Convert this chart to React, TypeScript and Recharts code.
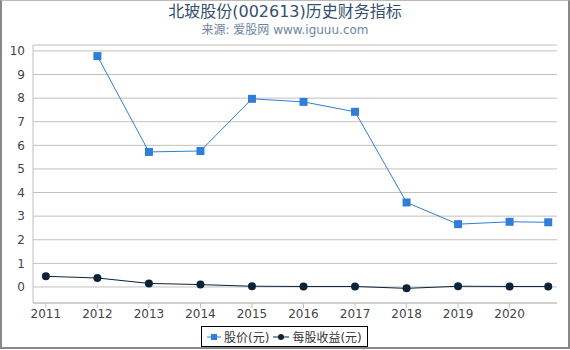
import { LineChart, Line, XAxis, YAxis, CartesianGrid } from "recharts";

const years = [2011, 2012, 2013, 2014, 2015, 2016, 2017, 2018, 2019, 2020, 2020.75];
const price = [null, 9.78, 5.72, 5.76, 7.97, 7.84, 7.42, 3.58, 2.66, 2.76, 2.74];
const eps = [0.45, 0.38, 0.15, 0.1, 0.03, 0.02, 0.02, -0.06, 0.03, 0.02, 0.02];
const xTicks = [2011, 2012, 2013, 2014, 2015, 2016, 2017, 2018, 2019, 2020];
const yTicks = [0, 1, 2, 3, 4, 5, 6, 7, 8, 9, 10];

const data = years.map((x, i) => ({ x, price: price[i], eps: eps[i] }));

const FONT = '"DejaVu Sans", "Noto Sans CJK SC", sans-serif';
const BLUE = "#2f7ed8";
const NAVY = "#0d233a";

function SquareDot(props: any) {
  const { cx, cy, index, value } = props;
  if (value == null || cx == null || cy == null) return <g key={"s" + index} />;
  return <rect key={"s" + index} x={cx - 4} y={cy - 4} width={8} height={8} fill={BLUE} />;
}

export default function App() {
  return (
    <div
      style={{
        position: "fixed",
        left: 0,
        top: 0,
        width: 570,
        height: 350,
        background: "#fff",
        fontFamily: FONT,
      }}
    >
      <div
        style={{
          position: "absolute",
          left: 0,
          top: 0,
          width: 566,
          height: 346,
          borderLeft: "2px solid #888",
          borderRight: "2px solid #888",
          borderBottom: "2px solid #888",
          borderTop: "1px solid #bbb",
        }}
      />
      <div
        style={{
          position: "absolute",
          top: -2,
          left: 0,
          width: 570,
          textAlign: "center",
          fontSize: 16,
          color: "#34506e",
        }}
      >
        北玻股份(002613)历史财务指标
      </div>
      <div
        style={{
          position: "absolute",
          top: 20,
          left: 0,
          width: 570,
          textAlign: "center",
          fontSize: 12,
          color: "#6D869F",
        }}
      >
        来源: 爱股网 www.iguuu.com
      </div>
      <div style={{ position: "absolute", left: 0, top: 0 }}>
        <LineChart
          width={570}
          height={350}
          data={data}
          margin={{ top: 45, right: 13, bottom: 0, left: 0 }}
        >
          <CartesianGrid horizontal vertical={false} stroke="#c0c0c0" />
          <XAxis
            dataKey="x"
            type="number"
            domain={[2010.75, 2020.92]}
            ticks={xTicks}
            height={47}
            stroke="#c0c0c0"
            tickSize={5}
            tickMargin={1}
            tick={{ fill: "#444", fontSize: 12, fontFamily: FONT }}
          />
          <YAxis
            type="number"
            domain={[-0.68, 10.25]}
            ticks={yTicks}
            width={33}
            stroke="#c0c0c0"
            tickLine={false}
            tickSize={0}
            tickMargin={8}
            tick={{ fill: "#444", fontSize: 12, fontFamily: FONT }}
          />
          <Line
            dataKey="price"
            stroke={BLUE}
            strokeWidth={1}
            dot={SquareDot}
            activeDot={false}
            isAnimationActive={false}
          />
          <Line
            dataKey="eps"
            stroke={NAVY}
            strokeWidth={1}
            dot={{ r: 4, fill: NAVY, stroke: NAVY, strokeWidth: 0 }}
            activeDot={false}
            isAnimationActive={false}
          />
        </LineChart>
      </div>
      <div
        style={{
          position: "absolute",
          left: 201,
          top: 326,
          width: 167,
          height: 21,
          border: "1px solid #000",
          display: "flex",
          alignItems: "center",
          fontSize: 12,
          color: "#333",
          paddingLeft: 5,
          boxSizing: "border-box",
          whiteSpace: "nowrap",
        }}
      >
        <svg width={14} height={10} style={{ marginRight: 3 }}>
          <line x1={0} y1={5} x2={14} y2={5} stroke={BLUE} strokeWidth={1} />
          <rect x={4} y={2} width={6} height={6} fill={BLUE} />
        </svg>
        <span style={{ marginRight: 4 }}>股价(元)</span>
        <svg width={16} height={10} style={{ marginRight: 3 }}>
          <line x1={0} y1={5} x2={16} y2={5} stroke={NAVY} strokeWidth={1} />
          <circle cx={8} cy={5} r={3} fill={NAVY} />
        </svg>
        <span>每股收益(元)</span>
      </div>
    </div>
  );
}
